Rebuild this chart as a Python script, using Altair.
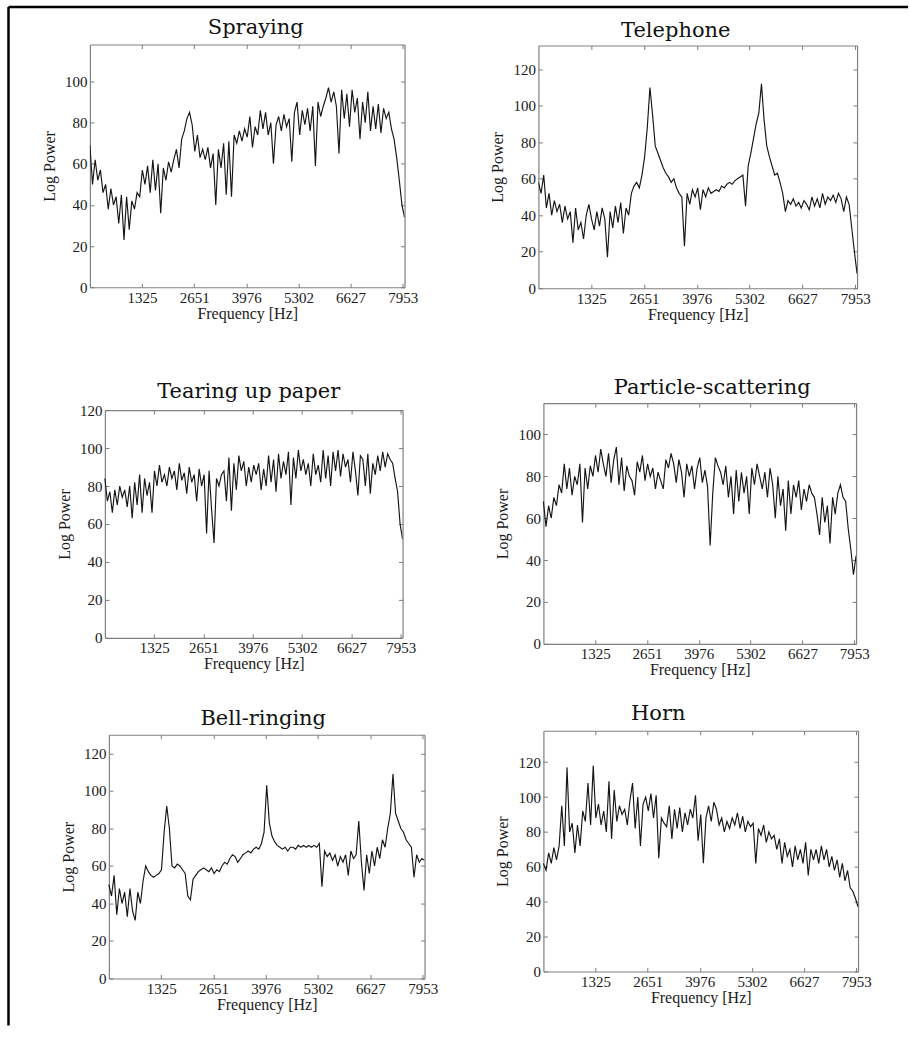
import altair as alt
import pandas as pd

# Frequency bins (Hz) shared by every spectrum
FREQ_HZ = [round(k * 8000 / 120, 2) for k in range(121)]
X_TICK_VALUES = [1325, 2651, 3976, 5302, 6627, 7953]

TITLES = ["Spraying", "Telephone", "Tearing up paper",
          "Particle-scattering", "Bell-ringing", "Horn"]

SPRAYING = [
    69, 50, 62, 52, 57, 46, 50, 38, 48, 40,
    44, 31, 45, 23, 44, 28, 42, 38, 46, 44,
    57, 50, 59, 46, 62, 47, 60, 36, 58, 52,
    61, 56, 62, 67, 58, 72, 76, 82, 85, 79,
    66, 74, 63, 67, 62, 68, 58, 65, 40, 67,
    58, 70, 45, 71, 44, 74, 70, 76, 71, 77,
    73, 83, 68, 78, 74, 86, 77, 85, 74, 80,
    60, 79, 83, 76, 84, 78, 82, 61, 85, 90,
    74, 86, 79, 87, 76, 88, 59, 90, 83, 88,
    92, 97, 90, 95, 88, 65, 96, 82, 94, 78,
    96, 85, 92, 72, 90, 80, 95, 76, 88, 77,
    89, 75, 87, 82, 85, 77, 72, 63, 52, 40,
    34,
]

TELEPHONE = [
    58, 52, 62, 44, 52, 40, 48, 42, 46, 36,
    45, 38, 42, 25, 44, 32, 36, 27, 40, 46,
    38, 32, 42, 34, 44, 38, 17, 42, 33, 45,
    36, 47, 30, 44, 40, 52, 56, 58, 55, 62,
    72, 88, 110, 95, 78, 74, 70, 66, 63, 61,
    58, 60, 55, 52, 50, 23, 52, 46, 54, 50,
    55, 43, 54, 50, 55, 52, 53, 54, 53, 56,
    55, 57, 58, 57, 59, 60, 61, 62, 45, 67,
    74, 82, 90, 96, 112, 92, 78, 72, 67, 62,
    63, 58, 52, 42, 48, 46, 49, 45, 47, 44,
    48, 46, 43, 50, 45, 49, 44, 52, 46, 50,
    48, 51, 47, 52, 49, 42, 50, 46, 33, 20,
    8,
]

TEARING = [
    84, 72, 77, 66, 78, 70, 80, 74, 78, 69,
    80, 63, 82, 70, 86, 66, 84, 75, 82, 66,
    88, 80, 91, 82, 86, 80, 90, 84, 88, 78,
    92, 83, 87, 76, 90, 82, 86, 72, 89, 80,
    86, 55, 88, 68, 50, 84, 80, 86, 88, 72,
    95, 67, 92, 78, 96, 88, 93, 80, 90, 82,
    91, 86, 92, 78, 89, 80, 96, 82, 94, 77,
    97, 84, 93, 86, 98, 70, 95, 84, 99, 88,
    94, 86, 92, 80, 97, 86, 91, 82, 99, 84,
    96, 80, 98, 88, 99, 85, 97, 90, 94, 82,
    98, 88, 75, 96, 94, 80, 97, 76, 92, 86,
    96, 88, 98, 90, 97, 94, 92, 84, 77, 60,
    52,
]

PARTICLE = [
    68, 56, 66, 60, 70, 66, 76, 72, 86, 74,
    84, 71, 80, 76, 86, 58, 84, 74, 85, 80,
    90, 82, 93, 86, 80, 91, 77, 88, 94, 76,
    89, 73, 85, 80, 78, 71, 87, 82, 90, 78,
    86, 80, 84, 74, 82, 78, 74, 88, 84, 91,
    86, 77, 88, 82, 70, 86, 80, 85, 74, 84,
    89, 77, 83, 75, 47, 72, 89, 85, 82, 76,
    85, 70, 80, 62, 83, 68, 82, 72, 80, 62,
    84, 76, 86, 80, 74, 82, 70, 84, 76, 60,
    80, 66, 74, 54, 78, 62, 76, 70, 78, 64,
    74, 68, 76, 72, 70, 62, 52, 70, 58, 66,
    48, 70, 62, 72, 76, 70, 68, 55, 45, 33,
    42,
]

BELL = [
    50, 44, 55, 34, 48, 40, 46, 33, 48, 36,
    31, 46, 40, 52, 60, 57, 55, 54, 55, 56,
    58, 78, 92, 80, 60, 59, 61, 60, 58, 56,
    44, 42, 53, 55, 57, 58, 59, 58, 57, 59,
    56, 58, 57, 60, 62, 61, 64, 66, 65, 62,
    64, 66, 67, 68, 67, 69, 70, 69, 72, 78,
    103, 83, 76, 73, 71, 70, 69, 70, 68, 70,
    70, 69, 71, 70, 71, 70, 71, 70, 71, 70,
    72, 49, 68, 65, 67, 63, 66, 60, 65, 62,
    66, 55, 68, 64, 66, 84, 62, 47, 66, 56,
    68, 60, 70, 64, 74, 70, 80, 88, 109, 88,
    84, 80, 78, 74, 72, 70, 54, 66, 62, 64,
    63,
]

HORN = [
    62, 58, 68, 62, 71, 64, 72, 95, 72, 117,
    80, 85, 68, 84, 72, 92, 86, 108, 84, 118,
    88, 96, 84, 92, 80, 109, 76, 104, 86, 95,
    90, 93, 84, 98, 108, 82, 100, 72, 96, 100,
    92, 102, 88, 101, 65, 88, 85, 83, 95, 76,
    93, 82, 94, 80, 91, 84, 93, 88, 101, 75,
    90, 62, 88, 95, 86, 97, 93, 84, 88, 80,
    86, 82, 88, 84, 91, 82, 89, 80, 86, 83,
    85, 62, 82, 78, 84, 74, 80, 76, 78, 70,
    76, 62, 74, 66, 70, 60, 72, 64, 70, 62,
    74, 55, 70, 64, 70, 62, 72, 64, 70, 60,
    66, 58, 64, 54, 62, 52, 58, 48, 46, 42,
    37,
]

Y_TICKS_100 = [0, 20, 40, 60, 80, 100]
Y_TICKS_120 = [0, 20, 40, 60, 80, 100, 120]

SERIF = "Liberation Serif"
TITLE_FONT = "DejaVu Serif"
BOX = "#808080"

COMMON_AXIS = dict(
    grid=False, domain=True, domainColor=BOX, domainWidth=1.2, ticks=True,
    tickColor="#7a7a7a", tickWidth=1, tickSize={"expr": "-4"},
    labelFont=SERIF, labelFontSize=15, labelColor="#1a1a1a",
    titleFont=SERIF, titleFontSize=16, titleFontWeight="normal",
    titleColor="#1a1a1a", labelFlush=False,
)


def panel(title, values, y_max, y_ticks, width, height, dx, dy,
          title_x, title_y, extra_layers=()):
    """A spectrum panel whose plot box sits dx/dy pixels inside its grid cell."""
    df = pd.DataFrame({"freq": FREQ_HZ, "power": values})
    xs = alt.Scale(domain=[0, 8000], range=[dx, dx + width], nice=False, zero=False)
    ys = alt.Scale(domain=[0, y_max], range=[dy + height, dy], nice=False, zero=False)
    line = alt.Chart(df).mark_line(color="#151515", strokeWidth=1.15, clip=True).encode(
        x=alt.X("freq:Q", scale=xs,
                axis=alt.Axis(orient="bottom", values=X_TICK_VALUES, format="d",
                              title="Frequency [Hz]", labelPadding=7, titlePadding=0,
                              **COMMON_AXIS)),
        y=alt.Y("power:Q", scale=ys,
                axis=alt.Axis(orient="left", values=y_ticks, format="d",
                              title="Log Power", labelPadding=7, titlePadding=7,
                              offset=-dx, **COMMON_AXIS)),
    )
    ghost = alt.Chart(df).mark_line(opacity=0).encode(
        x=alt.X("freq:Q", scale=xs,
                axis=alt.Axis(orient="top", values=X_TICK_VALUES, labels=False,
                              title=None, offset=-dy, **COMMON_AXIS)),
        y=alt.Y("power:Q", scale=ys,
                axis=alt.Axis(orient="right", values=y_ticks, labels=False,
                              title=None, **COMMON_AXIS)),
    )
    heading = alt.Chart(pd.DataFrame({"t": [title]})).mark_text(
        font=TITLE_FONT, fontSize=21, color="#111111", align="center",
        baseline="alphabetic",
    ).encode(text="t:N", x=alt.value(title_x), y=alt.value(title_y))
    layers = list(extra_layers) + [line, ghost, heading]
    return alt.layer(*layers).properties(width=dx + width, height=dy + height)


def spacer(w, h):
    return alt.Chart(pd.DataFrame({"s": [0]})).mark_point(opacity=0).encode(
        x=alt.value(0), y=alt.value(0)
    ).properties(width=w, height=h)


# outer page frame (drawn relative to the first panel)
frame_df = pd.DataFrame({"s": [0]})
frame_top = alt.Chart(frame_df).mark_rule(color="black", strokeWidth=2.5).encode(
    x=alt.value(-81.5), x2=alt.value(819), y=alt.value(-37.5))
frame_left = alt.Chart(frame_df).mark_rule(color="black", strokeWidth=2.5).encode(
    x=alt.value(-81.5), y=alt.value(-37.5), y2=alt.value(982))

p1 = panel(TITLES[0], SPRAYING, 118, Y_TICKS_100, 315, 243, 0, 0, 166, -10.7,
           extra_layers=(frame_top, frame_left))
p2 = panel(TITLES[1], TELEPHONE, 133, Y_TICKS_120, 319, 243, 0, 1, 137.5, -8)
p3 = panel(TITLES[2], TEARING, 120, Y_TICKS_120, 298, 228, 15, 7, 159, -5.3)
p4 = panel(TITLES[3], PARTICLE, 115, Y_TICKS_100, 313, 241, 5, 0, 174, -8.7)
p5 = panel(TITLES[4], BELL, 130, Y_TICKS_120, 316, 244, 19, 4, 173.5, -5.7)
p6 = panel(TITLES[5], HORN, 138, Y_TICKS_120, 315, 241, 5, 0, 120, -10.7)

cells = [
    p1, spacer(114, 1), p2,
    spacer(1, 115), spacer(1, 1), spacer(1, 1),
    p3, spacer(1, 1), p4,
    spacer(1, 87), spacer(1, 1), spacer(1, 1),
    p5, spacer(1, 1), p6,
]

chart = alt.concat(*cells, columns=3, spacing=0, align="each", bounds="flush").properties(
    padding={"left": 6, "top": 4, "right": 0, "bottom": 0},
    background="white",
).configure_view(stroke="transparent")

chart.save("out.html", embed_options={"renderer": "svg", "actions": False})
